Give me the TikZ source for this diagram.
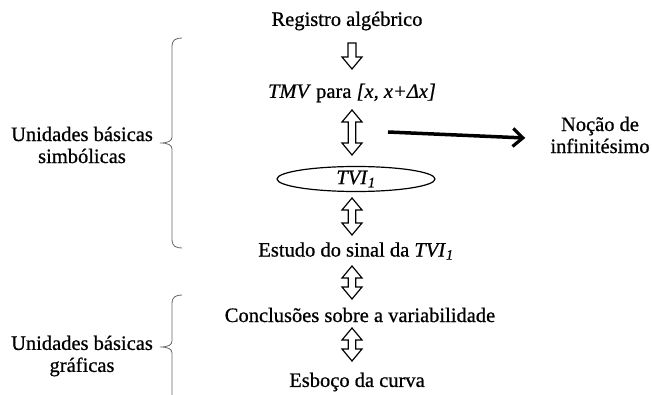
\documentclass[tikz,border=0pt]{standalone}
\usepackage{fontspec}
\setmainfont{Liberation Serif}[RawFeature={embolden=0.7}]
\usetikzlibrary{shapes.geometric,arrows.meta,calc}
\newcommand\hollowdbl[2]{%
  \draw[hollow] let \p1=(#1), \p2=(#2) in
    (\x1,\y1) -- ({\x1+10pt},{\y1-12pt}) -- ({\x1+3.7pt},{\y1-12pt}) --
    ({\x1+3.7pt},{\y2+12pt}) -- ({\x1+10pt},{\y2+12pt}) -- (\x1,\y2) --
    ({\x1-10pt},{\y2+12pt}) -- ({\x1-3.7pt},{\y2+12pt}) --
    ({\x1-3.7pt},{\y1-12pt}) -- ({\x1-10pt},{\y1-12pt}) -- cycle;}
\newcommand\hollowdown[2]{%
  \draw[hollow] let \p1=(#1), \p2=(#2) in
    ({\x1-4pt},\y1) -- ({\x1+4pt},\y1) -- ({\x1+4pt},{\y2+12pt}) --
    ({\x1+10pt},{\y2+12pt}) -- (\x1,\y2) -- ({\x1-10pt},{\y2+12pt}) --
    ({\x1-4pt},{\y2+12pt}) -- cycle;}
\begin{document}
\begin{tikzpicture}[x=1pt,y=-1pt,
  txt/.style={font=\fontsize{20.5}{22}\selectfont, inner sep=0pt, align=center},
  hollow/.style={draw=black, line width=1.2pt, fill=white, line join=miter},
  brace/.style={draw=black!60, line width=0.8pt},
  bigarrow/.style={line width=3.5pt, -{Straight Barb[length=10pt,width=18pt,line width=3.2pt]}},
]
\useasboundingbox (0,0) rectangle (652,395);
% main column
\node[txt] (reg) at (347,21) {Registro algébrico};
\node[txt] (tmv) at (352,93) {\textit{TMV} para \textit{[x, x+Δx]}};
\node[draw, ellipse, line width=1.2pt, minimum width=158pt, minimum height=25pt, inner sep=0pt,
      font=\fontsize{20.5}{22}\selectfont] (tvi) at (356,179) {\textit{TVI}\textsubscript{\textit{1}}};
\node[txt] (est) at (356,251) {Estudo do sinal da \textit{TVI}\textsubscript{\textit{1}}};
\node[txt] (con) at (360,315) {Conclusões sobre a variabilidade};
\node[txt] (esb) at (357,382) {Esboço da curva};
% side texts
\node[txt] (noc) at (600,135) {Noção de\\infinitésimo};
\node[txt] (ubs) at (82,145) {Unidades básicas\\simbólicas};
\node[txt] (ubg) at (82,356) {Unidades básicas\\gráficas};
% arrow end points
\coordinate (a1t) at (352,43);  \coordinate (a1b) at (352,69);
\coordinate (a2t) at (352,110); \coordinate (a2b) at (352,155);
\coordinate (a3t) at (352,198); \coordinate (a3b) at (352,235);
\coordinate (a4t) at (352,266); \coordinate (a4b) at (352,299);
\coordinate (a5t) at (352,328); \coordinate (a5b) at (352,361);
\hollowdown{a1t}{a1b}
\hollowdbl{a2t}{a2b}
\hollowdbl{a3t}{a3b}
\hollowdbl{a4t}{a4b}
\hollowdbl{a5t}{a5b}
% arrow to notion
\coordinate (ra) at (388,132);
\draw[bigarrow] (ra) -- ([xshift=-25pt,yshift=-3pt]noc.west);
% braces
\draw[brace] (182,38) .. controls (176,38) and (172,40) .. (172,46) -- (172,137)
  .. controls (172,141) and (168,143) .. (160,143)
  .. controls (168,143) and (172,145) .. (172,149) -- (172,240)
  .. controls (172,246) and (176,248) .. (182,248);
\draw[brace] (182,295) .. controls (176,295) and (172,297) .. (172,303) -- (172,341)
  .. controls (172,345) and (168,347) .. (160,347)
  .. controls (168,347) and (172,349) .. (172,353) -- (172,400);
\end{tikzpicture}
\end{document}
